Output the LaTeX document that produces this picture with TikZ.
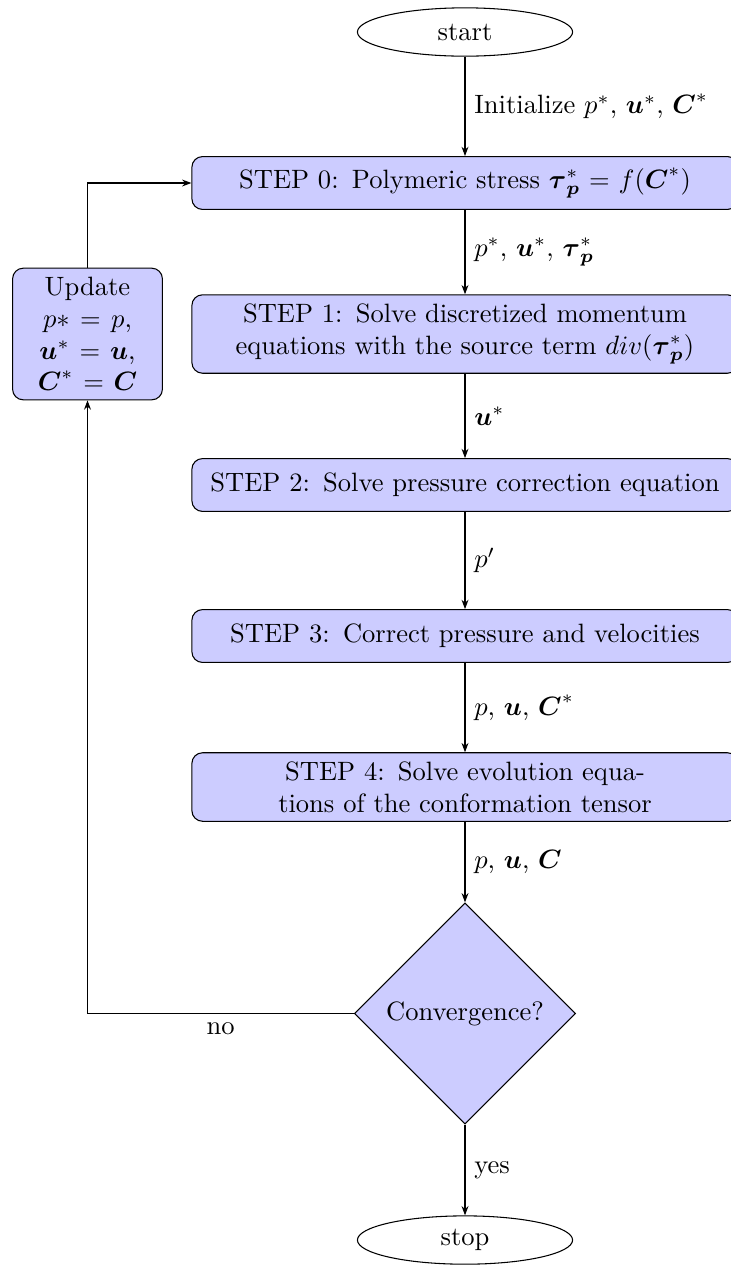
\documentclass[tikz,border=0pt]{standalone}
\usepackage{amsmath}
\usetikzlibrary{shapes.geometric,arrows.meta}
\tikzset{
  stepbox/.style={draw, rounded corners, fill=blue!20, text width=7cm, align=center, minimum height=0.7cm},
  updbox/.style={draw, rounded corners, fill=blue!20, text width=1.75cm, align=center},
  termin/.style={draw, ellipse, minimum width=2.85cm, minimum height=0.64cm, inner sep=1pt},
  decide/.style={draw, diamond, aspect=1, fill=blue!20, minimum size=2.93cm, inner sep=1pt},
  flow/.style={-{Stealth[length=3.5pt,width=2.6pt]}},
  lbl/.style={right}
}
\newcommand{\bu}{\boldsymbol{u}}
\newcommand{\bC}{\boldsymbol{C}}
\newcommand{\btau}{\boldsymbol{\tau}_{\boldsymbol{p}}}
\begin{document}
\begin{tikzpicture}
\useasboundingbox (-6.159,0.424) rectangle (3.510,-16.344);
\node[termin] (start) at (0,0) {start};
\node[stepbox] (s0) at (0,-2) {STEP 0: Polymeric stress $\btau^*$ $=$ $f(\bC^*)$};
\node[stepbox] (s1) at (0,-4) {STEP 1: Solve discretized momentum\\equations with the source term $div(\btau^*)$};
\node[stepbox] (s2) at (0,-6) {STEP 2: Solve pressure correction equation};
\node[stepbox] (s3) at (0,-8) {STEP 3: Correct pressure and velocities};
\node[stepbox] (s4) at (0,-10) {STEP 4: Solve evolution equa-\\tions of the conformation tensor};
\node[decide] (dec) at (0,-13) {Convergence?};
\node[termin] (stop) at (0,-16) {stop};
\node[updbox] (upd) at (-5,-4) {Update\\$p* = p$,\\$\bu^* = \bu$,\\$\bC^* = \bC$};

\draw[flow] (start) -- node[lbl] {Initialize $p^*$, $\bu^*$, $\bC^*$} (s0);
\draw[flow] (s0) -- node[lbl] {$p^*$, $\bu^*$, $\btau^*$} (s1);
\draw[flow] (s1) -- node[lbl] {$\bu^*$} (s2);
\draw[flow] (s2) -- node[lbl] {$p'$} (s3);
\draw[flow] (s3) -- node[lbl] {$p$, $\bu$, $\bC^*$} (s4);
\draw[flow] (s4) -- node[lbl] {$p$, $\bu$, $\bC$} (dec);
\draw[flow] (dec) -- node[lbl] {yes} (stop);
\draw[flow] (dec.west) -| node[below, pos=0.25] {no} (upd.south);
\draw[flow] (upd.north) |- (s0.west);
\end{tikzpicture}
\end{document}
